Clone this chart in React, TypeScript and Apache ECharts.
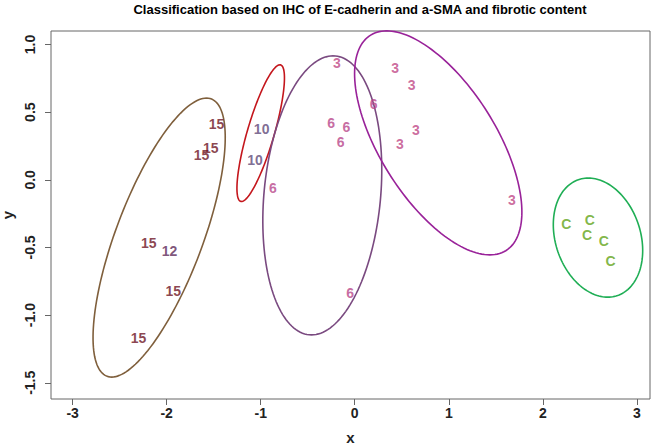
import React, { useEffect, useRef } from "react";
import * as echarts from "echarts";

const titleText = "Classification based on IHC of E-cadherin and a-SMA and fibrotic content";
const xTicks = [-3, -2, -1, 0, 1, 2, 3];
const yTicks = [-1.5, -1, -0.5, 0, 0.5, 1];

// point labels (text drawn at each point)
const groupNames = ["15", "12", "10", "6", "3", "C"];
const g15X = [-1.47, -1.53, -1.63, -2.19, -1.93, -2.3];
const g15Y = [0.41, 0.234, 0.18, -0.47, -0.82, -1.17];
const g12X = [-1.97];
const g12Y = [-0.525];
const g10X = [-0.99, -1.06];
const g10Y = [0.375, 0.148];
const g6X = [-0.87, -0.25, -0.09, -0.15, 0.2, -0.05];
const g6Y = [-0.06, 0.42, 0.394, 0.283, 0.56, -0.84];
const g3X = [-0.19, 0.43, 0.605, 0.65, 0.48, 1.67];
const g3Y = [0.862, 0.826, 0.7, 0.37, 0.266, -0.148];
const gCX = [2.25, 2.5, 2.47, 2.65, 2.72];
const gCY = [-0.325, -0.3, -0.41, -0.45, -0.6];
const groupX = [g15X, g12X, g10X, g6X, g3X, gCX];
const groupY = [g15Y, g12Y, g10Y, g6Y, g3Y, gCY];
const groupColors = ["#6e1424", "#5e2a58", "#5e4878", "#b8468a", "#c04886", "#62a418"];

// ellipses: centre and two conjugate semi-diameters (data units)
const ellCX = [-2.08, -1.0, -0.345, 0.888, 2.587];
const ellCY = [-0.427, 0.345, -0.115, 0.273, -0.427];
const ellUX = [0.504, 0.204, 0.115, -0.549, -0.103];
const ellUY = [1.031, 0.505, 1.031, 0.828, 0.44];
const ellVX = [0.49, 0.149, 0.622, 0.7, 0.464];
const ellVY = [0, 0, 0, 0, 0];
const ellColors = ["#7f5f3c", "#c4161c", "#7a4a80", "#992299", "#1fae55"];

const FONT = "'Liberation Sans', Arial, sans-serif";

export default function App() {
  const ref = useRef<HTMLDivElement>(null);
  useEffect(() => {
    if (!ref.current) return;
    const chart = echarts.init(ref.current, undefined, { renderer: "svg" });
    const ellData = ellCX.map((cx, i) => [cx, ellCY[i], ellUX[i], ellUY[i], ellVX[i], ellVY[i]]);
    const labelSeries = groupNames.map((name, gi) => ({
      type: "scatter",
      name,
      silent: true,
      symbol: "circle",
      symbolSize: 1,
      itemStyle: { color: "rgba(0,0,0,0)" },
      data: groupX[gi].map((x, j) => [x, groupY[gi][j]]),
      label: {
        show: true,
        position: "inside",
        formatter: name,
        color: groupColors[gi],
        fontSize: 14,
        fontWeight: "bold",
        fontFamily: FONT,
      },
      labelLayout: { hideOverlap: false },
      z: 5,
    }));
    chart.setOption({
      animation: false,
      backgroundColor: "#ffffff",
      title: {
        text: titleText,
        left: 355,
        top: -2,
        textAlign: "center",
        textStyle: {
          fontFamily: "'Liberation Sans Narrow', 'Liberation Sans', Arial, sans-serif",
          fontWeight: "bold",
          fontSize: 13,
          color: "#000",
        },
      },
      grid: {
        left: 51,
        right: 10,
        top: 31,
        bottom: 47,
        containLabel: false,
        outerBoundsMode: "none",
        show: true,
        borderColor: "#666",
        borderWidth: 1,
        backgroundColor: "transparent",
      },
      xAxis: {
        type: "value",
        min: -3.23,
        max: 3.14,
        name: "x",
        nameLocation: "middle",
        nameGap: 31,
        nameTextStyle: { fontFamily: FONT, fontSize: 15, color: "#222", fontWeight: "bold" },
        axisLine: { show: false, onZero: false },
        axisTick: {
          show: true,
          inside: false,
          length: 6,
          customValues: xTicks,
          lineStyle: { color: "#666" },
        },
        axisLabel: {
          customValues: xTicks,
          margin: 7,
          fontFamily: FONT,
          fontSize: 14,
          color: "#222",
          fontWeight: "bold",
        },
        splitLine: { show: false },
      },
      yAxis: {
        type: "value",
        min: -1.62,
        max: 1.1,
        name: "y",
        nameLocation: "middle",
        nameGap: 34,
        nameRotate: 90,
        nameTextStyle: { fontFamily: FONT, fontSize: 15, color: "#222", fontWeight: "bold" },
        axisLine: { show: false, onZero: false },
        axisTick: {
          show: true,
          inside: false,
          length: 6,
          customValues: yTicks,
          lineStyle: { color: "#666" },
        },
        axisLabel: {
          customValues: yTicks,
          rotate: 90,
          margin: 14,
          fontFamily: FONT,
          fontSize: 14,
          color: "#222",
          fontWeight: "bold",
          formatter: (v: number) => v.toFixed(1),
        },
        splitLine: { show: false },
      },
      series: [
        {
          type: "custom",
          silent: true,
          data: ellData,
          encode: { x: 0, y: 1 },
          renderItem: (params: any, api: any) => {
            const cx = api.value(0), cy = api.value(1);
            const ux = api.value(2), uy = api.value(3);
            const vx = api.value(4), vy = api.value(5);
            const pts: number[][] = [];
            for (let i = 0; i <= 160; i++) {
              const t = (i / 160) * Math.PI * 2;
              pts.push(api.coord([cx + ux * Math.cos(t) + vx * Math.sin(t), cy + uy * Math.cos(t) + vy * Math.sin(t)]));
            }
            return {
              type: "polyline",
              shape: { points: pts },
              style: { stroke: ellColors[params.dataIndex], fill: "none", lineWidth: 1.6 },
            };
          },
          z: 3,
        },
        ...labelSeries,
      ],
    });
    return () => chart.dispose();
  }, []);
  return <div ref={ref} style={{ position: "fixed", left: 0, top: 0, width: 660, height: 446 }} />;
}
